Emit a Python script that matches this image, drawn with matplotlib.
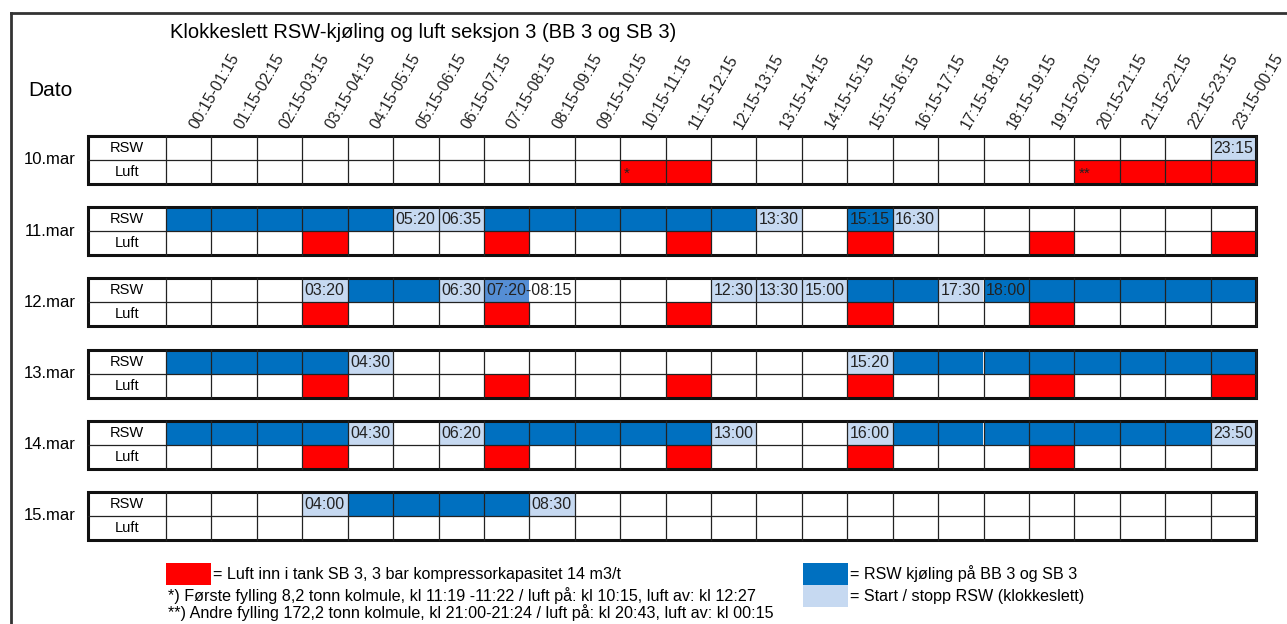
import matplotlib
matplotlib.use("Agg")
import matplotlib.pyplot as plt
from matplotlib.patches import Rectangle

plt.rcParams['font.family'] = ['Liberation Sans Narrow', 'Liberation Sans', 'DejaVu Sans']

# Data
title = "Klokkeslett RSW-kjøling og luft seksjon 3 (BB 3 og SB 3)"
hours = ["00:15-01:15", "01:15-02:15", "02:15-03:15", "03:15-04:15", "04:15-05:15",
         "05:15-06:15", "06:15-07:15", "07:15-08:15", "08:15-09:15", "09:15-10:15",
         "10:15-11:15", "11:15-12:15", "12:15-13:15", "13:15-14:15", "14:15-15:15",
         "15:15-16:15", "16:15-17:15", "17:15-18:15", "18:15-19:15", "19:15-20:15",
         "20:15-21:15", "21:15-22:15", "22:15-23:15", "23:15-00:15"]
days = ["10.mar", "11.mar", "12.mar", "13.mar", "14.mar", "15.mar"]

# RSW state per hour: b = RSW on, l = start/stop, m = start/stop (medium), . = off
rsw_state = [
    "." * 23 + "l",
    "bbbbb" + "ll" + "bbbbbb" + "l" + "." + "b" + "l" + "." * 7,
    "..." + "l" + "bb" + "l" + "m" + "...." + "lll" + "bb" + "l" + "b" + "bbbbb",
    "bbbb" + "l" + "." * 10 + "l" + "b" * 8,
    "bbbb" + "l" + "." + "l" + "bbbbb" + "l" + ".." + "l" + "b" * 7 + "l",
    "..." + "l" + "bbbb" + "l" + "." * 15,
]
rsw_times = [
    {23: "23:15"},
    {5: "05:20", 6: "06:35", 13: "13:30", 15: "15:15", 16: "16:30"},
    {3: "03:20", 6: "06:30", 7: "07:20-08:15", 12: "12:30", 13: "13:30",
     14: "15:00", 17: "17:30", 18: "18:00"},
    {4: "04:30", 15: "15:20"},
    {4: "04:30", 6: "06:20", 12: "13:00", 15: "16:00", 23: "23:50"},
    {3: "04:00", 8: "08:30"},
]
luft_on = [
    [10, 11, 20, 21, 22, 23],
    [3, 7, 11, 15, 19, 23],
    [3, 7, 11, 15, 19],
    [3, 7, 11, 15, 19, 23],
    [3, 7, 11, 15, 19],
    [],
]
luft_marks = [{10: "*", 20: "**"}, {}, {}, {}, {}, {}]

legend_red = "= Luft inn i tank SB 3, 3 bar kompressorkapasitet 14 m3/t"
legend_blue = "= RSW kjøling på BB 3 og SB 3"
legend_light = "= Start / stopp RSW (klokkeslett)"
note1 = "*) Første fylling 8,2 tonn kolmule, kl 11:19 -11:22 / luft på: kl 10:15, luft av: kl 12:27"
note2 = "**) Andre fylling 172,2 tonn kolmule, kl 21:00-21:24 / luft på: kl 20:43, luft av: kl 00:15"

colors = {"b": "#0070C0", "l": "#C6D9F1", "m": "#558ED5", ".": "white"}
red = "#FF0000"

fig = plt.figure(figsize=(12.87, 6.24), dpi=100)
ax = fig.add_axes([0, 0, 1, 1])
ax.set_xlim(0, 1287)
ax.set_ylim(624, 0)
ax.axis("off")

# frame
ax.plot([11, 1287], [13, 13], color="#333333", lw=2)
ax.plot([11, 11], [13, 624], color="#333333", lw=2)

x0, xl, cw = 88, 166, 1090 / 24
rh, top0, step = 24, 136, 71.2

ax.text(170, 32, title, fontsize=14.5, va="center", ha="left")
ax.text(28, 91, "Dato", fontsize=15, va="center", ha="left")
for j, h in enumerate(hours):
    ax.text(xl + j * cw + 27, 128, h, fontsize=11.3, rotation=60,
            rotation_mode="anchor", ha="left", va="center", color="#222222")

for i, day in enumerate(days):
    top = top0 + i * step
    ax.text(50, top + rh, day, fontsize=12, ha="center", va="center")
    ax.text((x0 + xl) / 2, top + rh / 2, "RSW", fontsize=10.5, ha="center", va="center")
    ax.text((x0 + xl) / 2, top + 1.5 * rh, "Luft", fontsize=10.5, ha="center", va="center")
    for j in range(24):
        cx = xl + j * cw
        st = rsw_state[i][j]
        if st != ".":
            ax.add_patch(Rectangle((cx, top), cw, rh, color=colors[st], lw=0))
        if j in luft_on[i]:
            ax.add_patch(Rectangle((cx, top + rh), cw, rh, color=red, lw=0))
    # grid lines
    ax.plot([x0, x0 + 1168], [top + rh, top + rh], color="#222222", lw=0.9)
    for j in range(25):
        gx = xl + j * cw
        # text 07:20-08:15 runs over the next cell on 12.mar
        if i == 2 and j == 8:
            ax.plot([gx, gx], [top + rh, top + 2 * rh], color="#222222", lw=0.9)
        else:
            ax.plot([gx, gx], [top, top + 2 * rh], color="#222222", lw=0.9)
    ax.add_patch(Rectangle((x0, top), xl + 24 * cw - x0, 2 * rh, fill=False,
                           ec="#111111", lw=2.2))
    for j, t in rsw_times[i].items():
        ax.text(xl + j * cw + 2.5, top + rh / 2 + 0.5, t, fontsize=11.5,
                ha="left", va="center", color="#222222")
    for j, t in luft_marks[i].items():
        ax.text(xl + j * cw + 4, top + rh * 1.5 + 2, t, fontsize=11,
                ha="left", va="center", color="#222222")

# legend
ax.add_patch(Rectangle((166, 563), 45, 22, color=red, lw=0))
ax.text(213, 574, legend_red, fontsize=11.6, ha="left", va="center")
ax.text(168, 596, note1, fontsize=11.6, ha="left", va="center")
ax.text(168, 613, note2, fontsize=11.6, ha="left", va="center")
ax.add_patch(Rectangle((803, 563), 45, 22, color=colors["b"], lw=0))
ax.add_patch(Rectangle((803, 585), 45, 22, color=colors["l"], lw=0))
ax.text(850, 574, legend_blue, fontsize=11.6, ha="left", va="center")
ax.text(850, 596, legend_light, fontsize=11.6, ha="left", va="center")

fig.savefig("out.png", dpi=100)
